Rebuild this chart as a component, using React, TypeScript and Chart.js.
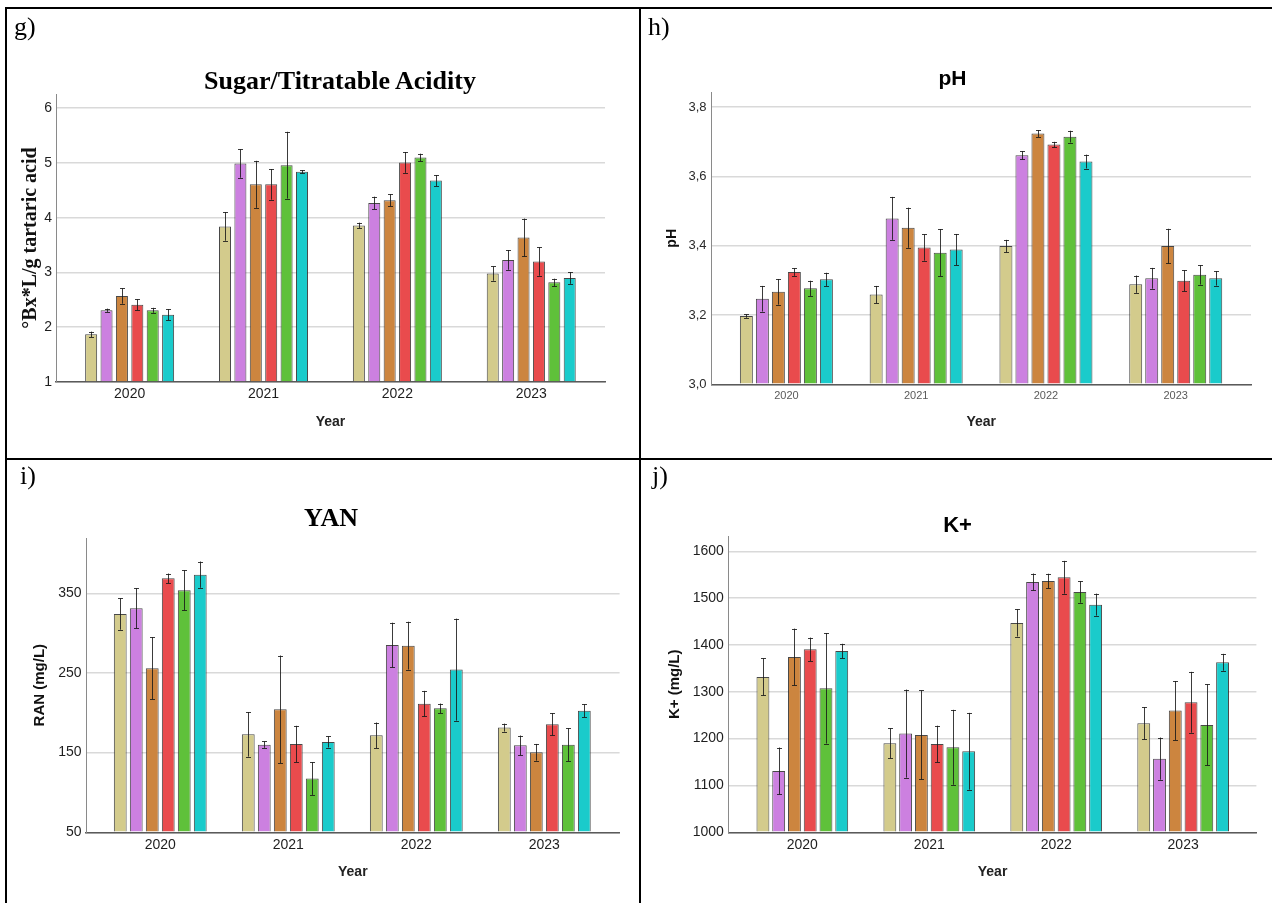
import React, { useEffect, useRef } from 'react';
import { Chart, registerables } from 'chart.js';

Chart.register(...registerables);

// ---------- data ----------
const YEARS = [2020, 2021, 2022, 2023];
const SERIES = ['Treatment 1', 'Treatment 2', 'Treatment 3', 'Treatment 4', 'Treatment 5', 'Treatment 6'];

// Sugar / Titratable acidity (°Bx*L/g tartaric acid), one row per series, one value per year
const SUGAR_MEANS = [
  [1.87, 3.84, 3.86, 2.98],
  [2.31, 4.99, 4.27, 3.23],
  [2.57, 4.61, 4.32, 3.64],
  [2.41, 4.61, 5.01, 3.2],
  [2.31, 4.96, 5.1, 2.82],
  [2.23, 4.84, 4.68, 2.9],
];
const SUGAR_ERRS = [
  [0.05, 0.26, 0.05, 0.13],
  [0.03, 0.26, 0.115, 0.18],
  [0.14, 0.43, 0.11, 0.345],
  [0.1, 0.28, 0.19, 0.26],
  [0.045, 0.61, 0.07, 0.067],
  [0.1, 0.03, 0.1, 0.107],
];
const SUGAR_TICKS = [1, 2, 3, 4, 5, 6];

// pH
const PH_MEANS = [
  [3.197, 3.259, 3.399, 3.289],
  [3.247, 3.479, 3.661, 3.306],
  [3.267, 3.452, 3.724, 3.399],
  [3.324, 3.395, 3.692, 3.299],
  [3.277, 3.38, 3.715, 3.316],
  [3.303, 3.389, 3.643, 3.306],
];
const PH_ERRS = [
  [0.005, 0.025, 0.018, 0.025],
  [0.037, 0.062, 0.012, 0.03],
  [0.037, 0.058, 0.01, 0.05],
  [0.011, 0.038, 0.008, 0.03],
  [0.022, 0.068, 0.017, 0.028],
  [0.019, 0.045, 0.02, 0.021],
];
const PH_TICKS = [3.0, 3.2, 3.4, 3.6, 3.8];

// YAN (RAN mg/L)
const YAN_MEANS = [
  [324, 173, 171.8, 181.4],
  [331.2, 160, 285.1, 159.2],
  [255.9, 204.4, 284.3, 150.4],
  [368.8, 160.9, 211.5, 185.6],
  [353.8, 117.4, 205.6, 160],
  [373.4, 163.4, 254.2, 202.7],
];
const YAN_ERRS = [
  [19.7, 28, 16, 5],
  [25, 4, 28, 12.3],
  [39, 67.5, 30, 10.5],
  [6, 22.8, 16, 14],
  [25, 20.5, 6, 20.5],
  [16.5, 7, 64, 8],
];
const YAN_TICKS = [50, 150, 250, 350];

// K+ (mg/L)
const K_MEANS = [
  [1331.7, 1190, 1447, 1232.7],
  [1131, 1210.7, 1534.5, 1157.3],
  [1374.4, 1207.8, 1536.6, 1259.8],
  [1390.7, 1188.6, 1544.5, 1277.6],
  [1307.5, 1181.5, 1513.1, 1229.2],
  [1387.2, 1173, 1486.1, 1363],
];
const K_ERRS = [
  [39.5, 32, 29, 34.5],
  [50, 94, 18, 45],
  [60.5, 95, 15.5, 63],
  [25, 39, 35, 65],
  [118, 80, 23, 86.5],
  [15.3, 82, 23.5, 18],
];
const K_TICKS = [1000, 1100, 1200, 1300, 1400, 1500, 1600];

// ---------- styles ----------
const COLORS = ['#D3CB8C', '#CC80E0', '#CC853F', '#E94B4D', '#5FC13A', '#1ACBCB'];
const SANS = "'Liberation Sans', Arial, sans-serif";
const SERIF = "'Liberation Serif', 'Times New Roman', serif";

type Spec = {
  x: number; y: number; w: number; h: number;
  pad: { left: number; top: number; right: number; bottom: number };
  yW: number; xH: number;
  xMin: number; xMax: number; yMin: number; yMax: number;
  cp: number; bp: number;
  means: number[][]; errs: number[][]; yTicks: number[];
  fmt: (v: number) => string;
  yTitle: string; yTitleFont: any; yTitlePad: number;
  yTickFont: any; yTickColor: string; yTickPad: number;
  xTickFont: any; xTickColor: string; xTickPad: number;
};

const errorBars = (errs: number[][]) => ({
  id: 'errorBars',
  afterDatasetsDraw(chart: any) {
    const ctx = chart.ctx;
    const ys = chart.scales.y;
    ctx.save();
    ctx.strokeStyle = 'rgba(25,25,25,0.85)';
    ctx.lineWidth = 1;
    chart.data.datasets.forEach((ds: any, di: number) => {
      const meta = chart.getDatasetMeta(di);
      meta.data.forEach((bar: any, i: number) => {
        const v = ds.data[i] as number;
        const e = errs[di][i];
        const x = Math.round(bar.x) + 0.5;
        const yt = ys.getPixelForValue(v + e);
        const yb = ys.getPixelForValue(v - e);
        ctx.beginPath();
        ctx.moveTo(x, yt);
        ctx.lineTo(x, yb);
        ctx.moveTo(x - 2.5, Math.round(yt) + 0.5);
        ctx.lineTo(x + 2.5, Math.round(yt) + 0.5);
        ctx.moveTo(x - 2.5, Math.round(yb) + 0.5);
        ctx.lineTo(x + 2.5, Math.round(yb) + 0.5);
        ctx.stroke();
      });
    });
    ctx.restore();
  },
});

function BarPanel({ s }: { s: Spec }) {
  const ref = useRef<HTMLCanvasElement>(null);
  useEffect(() => {
    const chart = new Chart(ref.current as HTMLCanvasElement, {
      type: 'bar',
      data: {
        labels: YEARS,
        datasets: s.means.map((vals, i) => ({
          label: SERIES[i],
          data: vals,
          backgroundColor: COLORS[i],
          borderColor: 'rgba(40,40,40,0.85)',
          borderWidth: 1,
        })),
      },
      options: {
        responsive: false,
        animation: false,
        devicePixelRatio: 1,
        layout: { padding: s.pad },
        datasets: { bar: { categoryPercentage: s.cp, barPercentage: s.bp, base: s.yMin } } as any,
        plugins: { legend: { display: false }, tooltip: { enabled: false }, title: { display: false } },
        scales: {
          x: {
            type: 'linear',
            min: s.xMin,
            max: s.xMax,
            offset: false,
            bounds: 'data',
            grid: { display: false, drawTicks: false, offset: false },
            border: { display: true, color: '#5a5a5a', width: 1.5 },
            afterBuildTicks: (sc: any) => { sc.ticks = YEARS.map((v) => ({ value: v })); },
            afterFit: (sc: any) => { sc.height = s.xH; },
            ticks: {
              autoSkip: false, maxRotation: 0, padding: s.xTickPad,
              font: s.xTickFont, color: s.xTickColor,
              callback: (v: any) => String(v),
            },
            title: {
              display: true, text: 'Year', color: '#222',
              font: { family: SANS, size: 14, weight: 'bold' },
              padding: { top: 0, bottom: 0 },
            },
          } as any,
          y: {
            type: 'linear',
            min: s.yMin,
            max: s.yMax,
            bounds: 'data',
            grid: { color: '#d9d9d9', lineWidth: 1.5, drawTicks: false },
            border: { display: true, color: '#8a8a8a', width: 1 },
            afterBuildTicks: (sc: any) => { sc.ticks = s.yTicks.map((v) => ({ value: v })); },
            afterFit: (sc: any) => { sc.width = s.yW; },
            ticks: {
              autoSkip: false, padding: s.yTickPad,
              font: s.yTickFont, color: s.yTickColor,
              callback: (v: any) => s.fmt(v as number),
            },
            title: {
              display: true, text: s.yTitle, color: '#111',
              font: s.yTitleFont,
              padding: { top: s.yTitlePad, bottom: 0 },
            },
          } as any,
        },
      },
      plugins: [errorBars(s.errs)],
    });
    return () => chart.destroy();
  }, []);
  return (
    <canvas
      ref={ref}
      width={s.w}
      height={s.h}
      style={{ position: 'absolute', left: s.x, top: s.y, width: s.w, height: s.h }}
    />
  );
}

const PANELS: Spec[] = [
  {
    x: 8, y: 10, w: 630, h: 446,
    pad: { left: 0, top: 84, right: 33, bottom: 25.6 }, yW: 48, xH: 48.4,
    xMin: 2019.45, xMax: 2023.551, yMin: 1, yMax: 6.26, cp: 0.69, bp: 0.78,
    means: SUGAR_MEANS, errs: SUGAR_ERRS, yTicks: SUGAR_TICKS, fmt: (v) => String(v),
    yTitle: '°Bx*L/g tartaric acid', yTitleFont: { family: SERIF, size: 20, weight: 'bold' }, yTitlePad: 11,
    yTickFont: { family: SANS, size: 14 }, yTickColor: '#1e1e1e', yTickPad: 4,
    xTickFont: { family: SANS, size: 14 }, xTickColor: '#1e1e1e', xTickPad: 3.6,
  },
  {
    x: 642, y: 10, w: 628, h: 446,
    pad: { left: 0, top: 82.3, right: 19, bottom: 25.6 }, yW: 69.5, xH: 46.1,
    xMin: 2019.423, xMax: 2023.58, yMin: 3.0, yMax: 3.843, cp: 0.74, bp: 0.81,
    means: PH_MEANS, errs: PH_ERRS, yTicks: PH_TICKS, fmt: (v) => v.toFixed(1).replace('.', ','),
    yTitle: 'pH', yTitleFont: { family: SANS, size: 14, weight: 'bold' }, yTitlePad: 21.3,
    yTickFont: { family: SANS, size: 13 }, yTickColor: '#2a2a2a', yTickPad: 5,
    xTickFont: { family: SANS, size: 11 }, xTickColor: '#5a5a5a', xTickPad: 4.9,
  },
  {
    x: 8, y: 461, w: 630, h: 440,
    pad: { left: 0, top: 77, right: 18.4, bottom: 20.6 }, yW: 78, xH: 48.1,
    xMin: 2019.42, xMax: 2023.588, yMin: 50, yMax: 419.4, cp: 0.75, bp: 0.8,
    means: YAN_MEANS, errs: YAN_ERRS, yTicks: YAN_TICKS, fmt: (v) => String(v),
    yTitle: 'RAN (mg/L)', yTitleFont: { family: SANS, size: 15, weight: 'bold' }, yTitlePad: 23.2,
    yTickFont: { family: SANS, size: 14 }, yTickColor: '#1e1e1e', yTickPad: 4.4,
    xTickFont: { family: SANS, size: 14 }, xTickColor: '#1e1e1e', xTickPad: 4,
  },
  {
    x: 642, y: 461, w: 628, h: 440,
    pad: { left: 0, top: 75.3, right: 13.6, bottom: 20.6 }, yW: 86.7, xH: 48.1,
    xMin: 2019.42, xMax: 2023.577, yMin: 1000, yMax: 1632, cp: 0.745, bp: 0.816,
    means: K_MEANS, errs: K_ERRS, yTicks: K_TICKS, fmt: (v) => String(v),
    yTitle: 'K+ (mg/L)', yTitleFont: { family: SANS, size: 15, weight: 'bold' }, yTitlePad: 23.8,
    yTickFont: { family: SANS, size: 14 }, yTickColor: '#1e1e1e', yTickPad: 4.9,
    xTickFont: { family: SANS, size: 14 }, xTickColor: '#1e1e1e', xTickPad: 4,
  },
];

const TITLES = [
  { text: 'Sugar/Titratable Acidity', cx: 340, top: 67.5, font: SERIF, size: 26 },
  { text: 'pH', cx: 952.5, top: 67.2, font: SANS, size: 21 },
  { text: 'YAN', cx: 331, top: 504.5, font: SERIF, size: 26 },
  { text: 'K+', cx: 957.6, top: 514.4, font: SANS, size: 22 },
];

const LABELS = [
  { text: 'g)', left: 14, top: 13.5 },
  { text: 'h)', left: 648, top: 13.5 },
  { text: 'i)', left: 20, top: 463 },
  { text: 'j)', left: 652, top: 463 },
];

const line = (left: number, top: number, width: number, height: number) => (
  <div style={{ position: 'absolute', left, top, width, height, background: '#000' }} />
);

export default function App() {
  return (
    <div
      style={{
        position: 'fixed', left: 0, top: 0, width: 1272, height: 903,
        background: '#fff', overflow: 'hidden',
      }}
    >
      {line(5, 7, 1280, 2)}
      {line(5, 7, 2, 910)}
      {line(639, 7, 2, 910)}
      {line(5, 458, 1280, 2)}
      {PANELS.map((s, i) => <BarPanel key={i} s={s} />)}
      {TITLES.map((t, i) => (
        <div
          key={'t' + i}
          style={{
            position: 'absolute', left: t.cx - 250, width: 500, top: t.top,
            textAlign: 'center', fontFamily: t.font, fontSize: t.size, fontWeight: 'bold',
            lineHeight: 1, whiteSpace: 'nowrap', color: '#000',
          }}
        >
          {t.text}
        </div>
      ))}
      {LABELS.map((l, i) => (
        <div
          key={'l' + i}
          style={{
            position: 'absolute', left: l.left, top: l.top, fontFamily: SERIF,
            fontSize: 26, lineHeight: 1, color: '#000',
          }}
        >
          {l.text}
        </div>
      ))}
    </div>
  );
}
